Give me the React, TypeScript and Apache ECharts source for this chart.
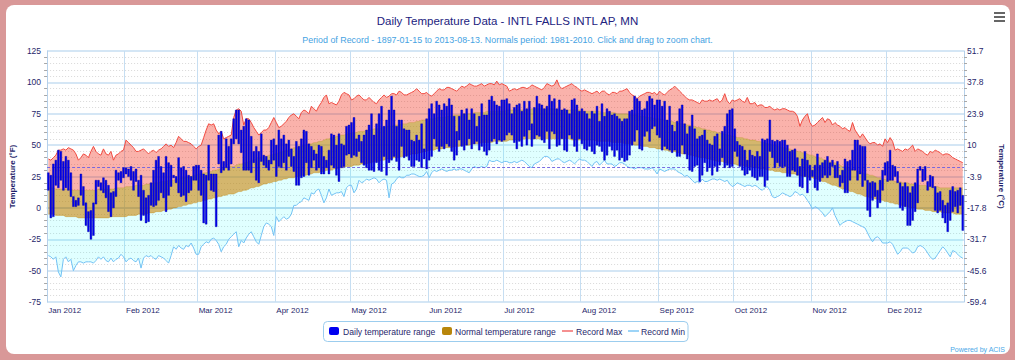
import React, { useEffect, useRef } from "react";
import * as echarts from "echarts";

// ---------- DATA (°F), 2012, one value per day (366 days) ----------
const monthLabels = ["Jan 2012", "Feb 2012", "Mar 2012", "Apr 2012", "May 2012", "Jun 2012", "Jul 2012", "Aug 2012", "Sep 2012", "Oct 2012", "Nov 2012", "Dec 2012"];
const monthStartIndex = [0, 31, 60, 91, 121, 152, 182, 213, 244, 274, 305, 335];
const yTicksF = [-75, -50, -25, 0, 25, 50, 75, 100, 125];

const days: string[] = Array.from({ length: 366 }, (_, i) => new Date(Date.UTC(2012, 0, 1 + i)).toISOString().slice(0, 10));

const recordMax = [
  39, 38, 40, 42, 46, 46, 47, 46, 48, 47, 46, 43, 38, 40, 43, 42, 40, 45, 49, 45, 43, 42, 47, 43, 42, 45, 38, 42, 43, 45, 46,
  54, 52, 50, 48, 45, 45, 46, 47, 45, 43, 45, 46, 44, 46, 47, 49, 51, 49, 50, 48, 52, 57, 55, 53, 53, 52, 51, 49, 47,
  49, 50, 56, 62, 67, 66, 67, 62, 59, 61, 55, 56, 57, 58, 72, 78, 79, 77, 66, 71, 71, 68, 64, 61, 58, 60, 62, 62, 64, 68, 72,
  68, 64, 65, 67, 69, 72, 74, 75, 73, 71, 76, 78, 77, 75, 81, 79, 77, 81, 84, 88, 90, 83, 84, 83, 82, 85, 90, 92, 91, 90,
  86, 87, 89, 90, 88, 86, 86, 88, 86, 84, 83, 86, 88, 90, 88, 89, 91, 91, 90, 93, 92, 90, 90, 91, 92, 93, 95, 93, 91, 91, 92,
  90, 89, 91, 93, 95, 94, 94, 96, 96, 95, 94, 93, 95, 97, 96, 97, 99, 98, 97, 97, 98, 99, 97, 98, 99, 99, 98, 101, 98, 99,
  98, 97, 93, 94, 95, 94, 95, 96, 96, 95, 96, 98, 97, 96, 95, 94, 96, 99, 98, 97, 98, 102, 97, 95, 96, 97, 98, 99, 97, 96, 94,
  93, 94, 93, 92, 91, 92, 93, 91, 93, 93, 91, 90, 92, 92, 91, 93, 93, 94, 95, 92, 90, 89, 87, 89, 90, 91, 92, 92, 91, 92, 90,
  93, 91, 90, 92, 94, 95, 97, 95, 93, 91, 89, 87, 86, 86, 85, 84, 83, 86, 85, 85, 86, 85, 86, 87, 84, 86, 91, 85, 83, 86,
  85, 86, 87, 85, 84, 88, 83, 83, 84, 81, 82, 82, 80, 80, 81, 79, 78, 79, 78, 79, 79, 78, 77, 77, 76, 73, 65, 70, 73, 75, 68,
  65, 66, 68, 70, 72, 68, 71, 70, 66, 68, 66, 65, 63, 64, 62, 61, 68, 62, 59, 56, 59, 56, 53, 51, 52, 52, 50, 51, 49, 55,
  52, 56, 53, 46, 47, 46, 45, 47, 46, 48, 50, 45, 47, 46, 45, 43, 42, 45, 44, 46, 45, 44, 42, 43, 43, 42, 40, 39, 38, 37, 36,
];

const recordMin = [
  -38, -39, -41, -39, -51, -55, -41, -39, -43, -41, -50, -46, -43, -43, -44, -43, -43, -43, -44, -42, -39, -41, -39, -42, -43, -40, -43, -41, -40, -37, -39,
  -43, -41, -40, -42, -43, -40, -48, -40, -38, -39, -38, -40, -41, -38, -39, -40, -42, -44, -38, -31, -33, -30, -32, -33, -30, -31, -28, -32, -37,
  -37, -31, -29, -27, -28, -25, -24, -26, -29, -35, -31, -29, -25, -23, -21, -19, -31, -26, -28, -24, -21, -19, -23, -27, -29, -22, -15, -12, -13, -15, -22,
  -7, -11, -9, -7, -9, -8, -5, 2, 2, 4, 5, 8, 7, 6, 12, 11, 14, 15, 10, 4, 8, 15, 10, 11, 12, 12, 13, 9, 16, 18,
  18, 12, 15, 22, 20, 21, 23, 22, 23, 24, 23, 20, 22, 23, 22, 8, 19, 20, 23, 25, 24, 24, 26, 26, 27, 27, 26, 25, 25, 26, 29,
  24, 28, 30, 29, 30, 31, 30, 29, 30, 30, 31, 30, 31, 31, 30, 29, 28, 31, 33, 32, 32, 33, 32, 33, 38, 37, 37, 38, 37, 36,
  37, 37, 36, 36, 37, 36, 37, 38, 37, 35, 33, 32, 35, 36, 37, 39, 41, 41, 40, 37, 38, 39, 39, 37, 36, 37, 38, 37, 35, 37, 39,
  38, 38, 37, 35, 33, 36, 37, 34, 36, 38, 35, 35, 35, 33, 34, 36, 36, 35, 33, 32, 32, 31, 32, 32, 32, 31, 31, 31, 32, 30, 27,
  31, 30, 29, 30, 31, 31, 31, 29, 28, 27, 25, 26, 24, 22, 20, 21, 20, 23, 21, 21, 22, 23, 23, 22, 23, 22, 21, 22, 19, 17,
  18, 20, 19, 18, 17, 18, 18, 17, 18, 17, 15, 14, 16, 17, 14, 9, 8, 9, 10, 12, 11, 10, 9, 10, 13, 12, 10, 11, 9, 6, 3,
  -1, 1, 0, -2, -4, -7, -5, -3, 0, -6, -10, -14, -12, -11, -10, -10, -11, -12, -13, -14, -15, -16, -20, -24, -27, -24, -23, -25, -28, -28,
  -28, -27, -29, -33, -37, -35, -32, -32, -32, -34, -36, -35, -31, -30, -31, -33, -36, -39, -41, -40, -37, -34, -31, -33, -36, -39, -34, -35, -37, -39, -40,
];

const normalMax = [
  16, 16, 16, 15, 15, 15, 15, 15, 15, 15, 14, 14, 14, 14, 14, 14, 14, 14, 14, 14, 15, 15, 15, 15, 15, 15, 15, 16, 16, 16, 16,
  17, 17, 17, 17, 18, 18, 18, 18, 19, 19, 19, 20, 20, 20, 21, 21, 21, 22, 22, 22, 23, 23, 24, 24, 24, 25, 25, 26, 26,
  27, 27, 28, 28, 29, 29, 30, 30, 31, 31, 32, 32, 33, 33, 33, 34, 35, 35, 36, 36, 37, 38, 38, 39, 40, 40, 41, 41, 42, 42, 43,
  43, 44, 45, 45, 46, 46, 47, 48, 48, 49, 49, 50, 50, 51, 51, 52, 52, 53, 53, 54, 55, 55, 56, 56, 57, 57, 58, 58, 59, 59,
  60, 60, 60, 61, 61, 61, 62, 62, 62, 63, 63, 63, 64, 64, 65, 65, 65, 66, 66, 66, 67, 67, 67, 68, 68, 68, 69, 69, 70, 70, 70,
  71, 71, 71, 72, 72, 72, 72, 73, 73, 73, 74, 74, 74, 74, 75, 75, 75, 75, 76, 76, 76, 76, 76, 77, 77, 77, 77, 77, 77, 77,
  77, 78, 78, 78, 78, 78, 78, 78, 78, 78, 78, 79, 79, 79, 79, 79, 79, 79, 79, 79, 79, 78, 78, 78, 78, 78, 78, 78, 78, 78, 78,
  77, 77, 77, 77, 77, 77, 77, 77, 76, 76, 76, 76, 76, 76, 75, 75, 75, 75, 75, 74, 74, 74, 74, 73, 73, 73, 72, 72, 72, 71, 71,
  71, 70, 70, 69, 69, 69, 68, 68, 67, 67, 67, 66, 66, 65, 65, 64, 64, 63, 63, 62, 62, 61, 61, 60, 60, 59, 59, 58, 58, 57,
  57, 56, 56, 56, 55, 55, 54, 54, 54, 53, 53, 52, 52, 51, 51, 50, 50, 49, 49, 48, 48, 47, 47, 46, 46, 45, 45, 44, 44, 43, 42,
  42, 41, 40, 40, 39, 38, 38, 37, 36, 36, 35, 34, 33, 33, 32, 31, 31, 30, 29, 29, 28, 27, 27, 26, 26, 25, 24, 24, 23, 23,
  22, 22, 22, 21, 21, 21, 20, 20, 20, 19, 19, 19, 18, 18, 18, 18, 17, 17, 17, 17, 17, 16, 16, 16, 16, 16, 16, 16, 16, 16, 16,
];

const normalMin = [
  -5, -5, -5, -6, -6, -6, -6, -7, -7, -7, -7, -7, -8, -8, -8, -8, -8, -8, -8, -8, -8, -8, -8, -8, -8, -7, -7, -7, -7, -7, -7,
  -7, -6, -6, -6, -6, -5, -5, -5, -5, -4, -4, -4, -3, -3, -3, -2, -2, -1, -1, 0, 0, 1, 1, 2, 2, 3, 3, 4, 4,
  5, 5, 6, 6, 7, 7, 8, 8, 9, 9, 10, 10, 11, 11, 11, 12, 13, 13, 14, 14, 15, 16, 16, 17, 17, 18, 19, 19, 20, 20, 21,
  21, 22, 22, 23, 23, 24, 24, 24, 25, 25, 26, 26, 26, 27, 27, 28, 28, 28, 29, 29, 30, 30, 30, 31, 31, 32, 32, 32, 33, 33,
  33, 34, 34, 34, 35, 35, 35, 36, 36, 37, 37, 37, 38, 38, 39, 39, 39, 40, 40, 40, 41, 41, 42, 42, 43, 43, 43, 44, 44, 45, 45,
  46, 46, 46, 47, 47, 47, 48, 48, 48, 48, 49, 49, 49, 50, 50, 50, 50, 51, 51, 51, 51, 52, 52, 52, 52, 52, 53, 53, 53, 53,
  53, 53, 54, 54, 54, 54, 54, 54, 55, 55, 55, 55, 55, 55, 55, 55, 55, 55, 55, 55, 55, 55, 55, 55, 55, 55, 55, 54, 54, 54, 54,
  54, 54, 54, 54, 54, 54, 53, 53, 53, 53, 53, 53, 52, 52, 52, 52, 52, 51, 51, 51, 51, 50, 50, 50, 49, 49, 49, 48, 48, 48, 47,
  47, 47, 46, 46, 45, 45, 45, 44, 44, 43, 43, 43, 42, 42, 41, 41, 40, 40, 40, 39, 39, 38, 38, 37, 37, 37, 36, 36, 35, 35,
  35, 34, 34, 34, 33, 33, 33, 32, 32, 32, 31, 31, 31, 30, 30, 30, 29, 29, 29, 28, 28, 28, 27, 27, 27, 26, 26, 25, 25, 25, 24,
  24, 23, 23, 22, 21, 21, 20, 19, 18, 18, 17, 16, 15, 15, 14, 13, 13, 12, 11, 11, 10, 9, 9, 8, 8, 7, 7, 6, 6, 5,
  5, 4, 4, 3, 3, 2, 2, 1, 1, 0, 0, 0, -1, -1, -1, -2, -2, -2, -3, -3, -3, -3, -4, -4, -4, -4, -4, -5, -5, -5, -5,
];

const dailyMax = [
  28, 26, 35, 38, 46, 45, 37, 41, 38, 28, 9, 6, 8, 27, 17, 4, -3, -2, 4, 22, 22, 20, 24, 22, 18, 12, 13, 30, 28, 29, 32,
  32, 31, 33, 29, 31, 22, 26, 14, 8, 10, 20, 30, 38, 41, 33, 28, 41, 36, 34, 26, 25, 40, 32, 33, 30, 26, 25, 33, 34,
  34, 30, 27, 26, 50, 27, 27, 27, 58, 61, 37, 55, 49, 55, 71, 78, 78, 62, 65, 71, 70, 57, 45, 49, 45, 59, 42, 41, 38, 54, 55,
  50, 62, 55, 58, 51, 54, 47, 41, 53, 49, 55, 62, 61, 51, 49, 46, 43, 50, 49, 41, 38, 46, 59, 58, 50, 59, 51, 50, 65, 66,
  68, 72, 55, 58, 53, 58, 62, 66, 75, 58, 67, 75, 81, 65, 70, 78, 89, 78, 65, 70, 70, 63, 62, 62, 54, 53, 58, 54, 67, 47, 71,
  79, 83, 75, 85, 82, 78, 83, 81, 87, 82, 73, 61, 73, 78, 75, 79, 70, 79, 75, 65, 73, 83, 74, 74, 86, 89, 85, 82, 81, 86,
  86, 87, 83, 75, 80, 82, 83, 77, 85, 79, 85, 67, 80, 89, 83, 82, 79, 81, 90, 85, 87, 79, 86, 78, 79, 78, 75, 86, 87, 82, 77,
  79, 77, 75, 71, 77, 75, 81, 69, 83, 73, 79, 77, 74, 75, 73, 71, 69, 71, 71, 77, 78, 89, 87, 85, 78, 79, 85, 89, 87, 82, 86,
  86, 81, 85, 70, 81, 66, 61, 69, 79, 82, 67, 59, 65, 74, 63, 55, 57, 58, 62, 54, 51, 50, 57, 59, 47, 61, 65, 75, 78, 79,
  63, 53, 50, 49, 46, 38, 46, 42, 41, 45, 41, 55, 54, 55, 70, 54, 53, 54, 53, 54, 54, 50, 45, 46, 47, 40, 33, 39, 45, 38, 34,
  30, 34, 43, 34, 36, 38, 41, 36, 38, 34, 37, 26, 30, 39, 37, 38, 46, 54, 54, 50, 49, 49, 22, 20, 21, 20, 14, 22, 30, 36,
  37, 46, 34, 33, 29, 20, 17, 20, 17, 12, 17, 20, 31, 33, 31, 33, 21, 26, 25, 17, 12, 13, 6, 2, 4, 14, 17, 13, 14, 16, 10,
];

const dailyMin = [
  14, -8, -7, 18, 16, 22, 14, 16, 14, 9, 1, 1, 2, 10, 2, -14, -19, -25, -22, 3, 17, 14, 12, 8, -3, -7, 0, 9, 22, 20, 24,
  27, 25, 22, 14, 21, 9, -10, -6, -12, -11, 2, 1, 2, 6, 12, 8, -3, 10, 17, 24, 20, 12, 9, 10, 5, 12, 14, 22, 22,
  14, 10, -12, -13, 22, 14, 13, -15, 35, 28, 30, 32, 30, 35, 51, 55, 51, 44, 30, 30, 30, 28, 36, 22, 20, 37, 34, 32, 30, 35, 38,
  25, 33, 32, 36, 30, 41, 33, 29, 18, 18, 24, 25, 36, 26, 32, 38, 30, 32, 27, 27, 32, 27, 34, 32, 26, 21, 32, 33, 42, 43,
  40, 42, 41, 45, 36, 34, 32, 30, 30, 29, 36, 30, 29, 41, 26, 36, 38, 41, 37, 30, 49, 40, 41, 38, 33, 33, 38, 37, 32, 39, 31,
  38, 41, 55, 49, 45, 49, 47, 51, 49, 45, 38, 42, 54, 49, 46, 50, 55, 47, 51, 53, 46, 49, 45, 42, 46, 53, 55, 51, 54, 53,
  54, 58, 60, 58, 52, 47, 53, 49, 57, 50, 62, 49, 55, 58, 57, 54, 52, 61, 47, 61, 59, 49, 50, 55, 46, 45, 58, 55, 49, 45, 55,
  51, 47, 46, 49, 45, 43, 50, 49, 45, 38, 42, 49, 46, 41, 46, 38, 40, 37, 38, 42, 50, 53, 62, 47, 46, 57, 61, 53, 63, 65, 58,
  56, 46, 49, 47, 46, 44, 46, 41, 41, 50, 43, 39, 30, 29, 33, 34, 21, 26, 36, 29, 32, 26, 33, 29, 34, 40, 32, 34, 32, 33,
  45, 41, 33, 30, 26, 27, 30, 25, 24, 22, 25, 25, 17, 22, 45, 40, 32, 36, 33, 32, 33, 25, 25, 30, 29, 26, 17, 16, 25, 12, 22,
  25, 16, 14, 21, 24, 26, 24, 26, 33, 24, 24, 17, 20, 12, 12, 22, 30, 30, 22, 27, 17, 22, -2, -7, 6, 9, 0, 4, 14, 26,
  21, 22, 22, 25, 20, 0, -2, 1, -14, -14, -10, -3, 4, 30, 21, 22, 14, 17, 16, -2, -4, -2, -8, -12, -19, -10, -3, 1, -4, 2, -18,
];

const freezingF = 32;

// ---------- STYLE ----------
const FONT = "'Liberation Sans', Arial, sans-serif";
const NAVY = "#1f1f6b";
const GRID_BLUE = "#c6def2";
const AXIS_BLUE = "#b5d0ea";

const isMonthStart = (index: number) => monthStartIndex.indexOf(index) >= 0;
const fToC = (v: number) => String(parseFloat(((v - 32) * 5 / 9).toFixed(1)));

// bands built from the arrays (stacked)
const bandCyan = normalMin.map((v, i) => v - recordMin[i]);
const bandTan = normalMax.map((v, i) => v - normalMin[i]);
const bandRed = recordMax.map((v, i) => v - normalMax[i]);
const dailyRange = dailyMin.map((lo, i) => [i, lo, dailyMax[i]]);

const legendItems = [
  { kind: "box", color: "#0000f0", label: "Daily temperature range", x: 329, tx: 343 },
  { kind: "box", color: "#b8860b", label: "Normal temperature range", x: 442, tx: 455 },
  { kind: "line", color: "#f26b6b", label: "Record Max", x: 562, tx: 576 },
  { kind: "line", color: "#7cc6f5", label: "Record Min", x: 628, tx: 641 },
];

function buildOption() {
  const legendGraphics: any[] = [
    {
      type: "rect",
      shape: { x: 323.5, y: 321.5, width: 364.5, height: 20, r: 4 },
      style: { fill: "#ffffff", stroke: "#9ccdee", lineWidth: 1 },
      z: 100,
    },
  ];
  legendItems.forEach((it) => {
    if (it.kind === "box") {
      legendGraphics.push({
        type: "rect",
        shape: { x: it.x, y: 327, width: 10, height: 8, r: 2 },
        style: { fill: it.color },
        z: 101,
      });
    } else {
      legendGraphics.push({
        type: "line",
        shape: { x1: it.x, y1: 331, x2: it.x + 11, y2: 331 },
        style: { stroke: it.color, lineWidth: 1.5 },
        z: 101,
      });
    }
    legendGraphics.push({
      type: "text",
      x: it.tx,
      y: 331.5,
      style: { text: it.label, fill: NAVY, font: `8.6px ${FONT}`, verticalAlign: "middle", align: "left" },
      z: 101,
    });
  });

  const menu: any[] = [0, 4, 8].map((dy) => ({
    type: "rect",
    shape: { x: 994, y: 12 + dy, width: 11, height: 2 },
    style: { fill: "#666666" },
    z: 100,
  }));

  return {
    animation: false,
    title: [
      {
        text: "Daily Temperature Data - INTL FALLS INTL AP, MN",
        left: "center",
        top: 10,
        textStyle: { fontFamily: FONT, fontSize: 11.5, fontWeight: "normal", color: "#22227e" },
      },
      {
        text: "Period of Record - 1897-01-15 to 2013-08-13. Normals period: 1981-2010. Click and drag to zoom chart.",
        left: "center",
        top: 30,
        textStyle: { fontFamily: FONT, fontSize: 8.9, fontWeight: "normal", color: "#45a2e2" },
      },
    ],
    grid: { left: 44, right: 51, top: 51, bottom: 58, containLabel: false },
    xAxis: {
      type: "category",
      data: days,
      boundaryGap: true,
      axisLine: { show: true, lineStyle: { color: AXIS_BLUE, width: 1.5 } },
      axisTick: { show: true, interval: (i: number) => isMonthStart(i), length: 3, lineStyle: { color: AXIS_BLUE } },
      axisLabel: {
        interval: (i: number) => isMonthStart(i),
        formatter: (_v: string, i: number) => monthLabels[monthStartIndex.indexOf(i)] || "",
        align: "left",
        margin: 4,
        fontFamily: FONT,
        fontSize: 8,
        color: NAVY,
      },
      splitLine: { show: true, interval: (i: number) => isMonthStart(i), lineStyle: { color: GRID_BLUE, width: 1 } },
    },
    yAxis: [
      {
        type: "value",
        position: "left",
        min: yTicksF[0],
        max: yTicksF[yTicksF.length - 1],
        interval: 25,
        axisLine: { show: true, lineStyle: { color: AXIS_BLUE, width: 1 } },
        axisTick: { show: false },
        minorTick: { show: true, splitNumber: 5, length: 3, lineStyle: { color: "#a8a8a8" } },
        axisLabel: { fontFamily: FONT, fontSize: 8.5, color: NAVY, margin: 6 },
        splitLine: { show: true, lineStyle: { color: GRID_BLUE, width: 1.5 } },
        minorSplitLine: { show: true, lineStyle: { color: "#d9d9d9", type: [1, 2], width: 1 } },
        name: "Temperature (°F)",
        nameLocation: "middle",
        nameGap: 28,
        nameRotate: 90,
        nameTextStyle: { fontFamily: FONT, fontSize: 8, fontWeight: "bold", color: NAVY },
      },
      {
        type: "value",
        position: "right",
        min: yTicksF[0],
        max: yTicksF[yTicksF.length - 1],
        interval: 25,
        axisLine: { show: true, lineStyle: { color: AXIS_BLUE, width: 1 } },
        axisTick: { show: false },
        minorTick: { show: true, splitNumber: 5, length: 3, lineStyle: { color: "#a8a8a8" } },
        axisLabel: { fontFamily: FONT, fontSize: 8.5, color: NAVY, margin: 3, formatter: (v: number) => fToC(v) },
        splitLine: { show: false },
        minorSplitLine: { show: false },
        name: "Temperature (°C)",
        nameLocation: "middle",
        nameGap: 26,
        nameRotate: -90,
        nameTextStyle: { fontFamily: FONT, fontSize: 8, fontWeight: "bold", color: NAVY },
      },
    ],
    series: [
      {
        name: "Record Min",
        type: "line",
        data: recordMin,
        stack: "temps",
        stackStrategy: "all",
        symbol: "none",
        lineStyle: { color: "#72c2f4", width: 1 },
        z: 3,
        markLine: {
          silent: true,
          symbol: ["none", "none"],
          label: { show: false },
          lineStyle: { color: "#6b5fe0", type: [3, 2], width: 0.9 },
          data: [{ yAxis: freezingF }],
        },
      },
      {
        name: "Record Min band",
        type: "line",
        data: bandCyan,
        stack: "temps",
        stackStrategy: "all",
        symbol: "none",
        lineStyle: { color: "rgba(184,134,11,0.45)", width: 0.8 },
        areaStyle: { color: "rgba(0,255,255,0.12)", opacity: 1 },
        z: 2,
      },
      {
        name: "Normal temperature range",
        type: "line",
        data: bandTan,
        stack: "temps",
        stackStrategy: "all",
        symbol: "none",
        lineStyle: { color: "rgba(184,134,11,0.45)", width: 0.6 },
        areaStyle: { color: "rgba(184,134,11,0.6)", opacity: 1 },
        z: 2,
      },
      {
        name: "Record Max",
        type: "line",
        data: bandRed,
        stack: "temps",
        stackStrategy: "all",
        symbol: "none",
        lineStyle: { color: "#f04a40", width: 1 },
        areaStyle: { color: "rgba(240,30,10,0.34)", opacity: 1 },
        z: 3,
      },
      {
        name: "Daily temperature range",
        type: "custom",
        data: dailyRange,
        encode: { x: 0, y: [1, 2] },
        z: 5,
        renderItem: (_params: any, api: any) => {
          const i = api.value(0);
          const top = api.coord([i, api.value(2)]);
          const bot = api.coord([i, api.value(1)]);
          const w = api.size([1, 0])[0] * 0.72;
          return {
            type: "rect",
            shape: { x: top[0] - w / 2, y: top[1], width: w, height: Math.max(1, bot[1] - top[1]) },
            style: { fill: "#0000f2", stroke: "#0000a0", lineWidth: 0.4 },
          };
        },
      },
    ],
    graphic: [
      ...legendGraphics,
      ...menu,
      {
        type: "text",
        x: 1005,
        y: 349,
        style: { text: "Powered by ACIS", fill: "#4aa8e8", font: `7px ${FONT}`, align: "right", verticalAlign: "middle" },
        z: 100,
      },
    ],
  };
}

export default function App() {
  const ref = useRef<HTMLDivElement>(null);
  useEffect(() => {
    if (!ref.current) return;
    const chart = echarts.init(ref.current, null, { renderer: "svg" });
    chart.setOption(buildOption() as any);
    return () => chart.dispose();
  }, []);
  return (
    <div style={{ position: "fixed", left: 0, top: 0, width: 1015, height: 360, background: "#d99898", overflow: "hidden" }}>
      <div style={{ position: "absolute", left: 6, top: 5, width: 1004, height: 349, background: "#ffffff", borderRadius: 8 }} />
      <div ref={ref} style={{ position: "absolute", left: 0, top: 0, width: 1015, height: 360 }} />
    </div>
  );
}
